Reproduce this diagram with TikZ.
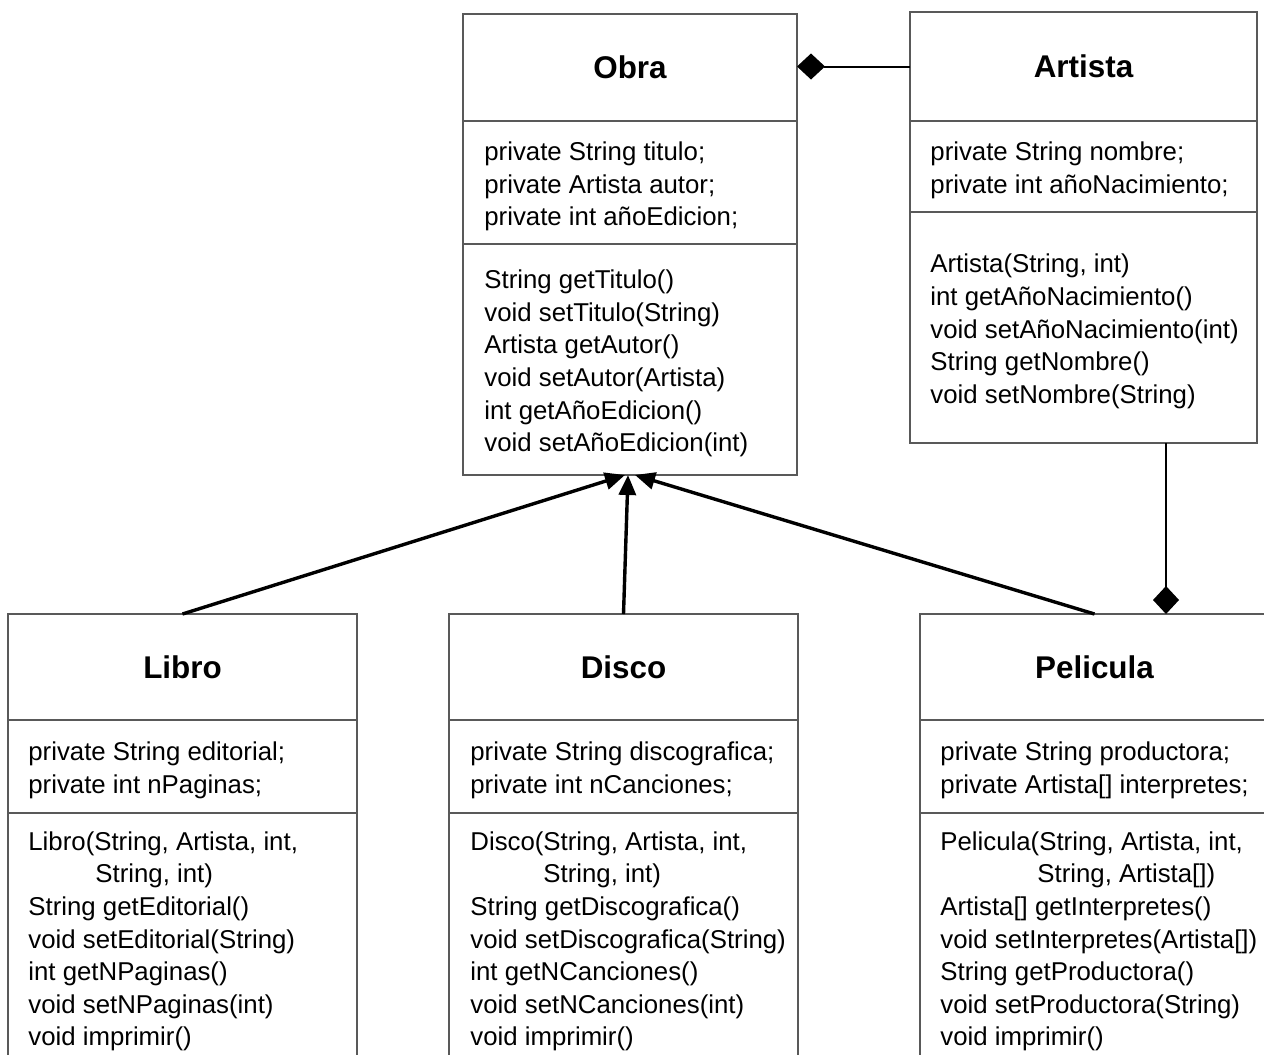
\documentclass[tikz,border=0pt]{standalone}
\usepackage{fontspec}
\setmainfont{Liberation Sans}
\usetikzlibrary{positioning,arrows.meta}

\begin{document}
\begin{tikzpicture}[x=0.5pt,y=-0.5pt,
    box/.style={draw=black!65,line width=1pt,outer sep=0pt,inner sep=0pt,anchor=north west},
    titulo/.style={box,font=\fontsize{15.7}{19}\selectfont\bfseries},
    txt/.style={anchor=west,align=left,inner sep=0pt,yshift=-2pt,font=\fontsize{12.9}{16.3}\selectfont},
    herencia/.style={line width=1.7pt,-{Triangle[length=10pt,width=8.5pt]}},
    composicion/.style={line width=1pt,-{Diamond[length=14pt,width=13pt]}}]

  \useasboundingbox (0,0) rectangle (1264,1055);

  % Obra
  \node[titulo,minimum width=167pt,minimum height=53.5pt] (obra) at (463,14) {Obra};
  \node[box,minimum width=167pt,minimum height=61.5pt,below=0pt of obra] (obra-attr) {};
  \node[box,minimum width=167pt,minimum height=115.5pt,below=0pt of obra-attr] (obra-ops) {};
  \node[txt] (obra-attr-txt) at ([xshift=10.5pt]obra-attr.west)
        {private String titulo;\\private Artista autor;\\private int añoEdicion;};
  \node[txt] (obra-ops-txt) at ([xshift=10.5pt]obra-ops.west)
        {String getTitulo()\\void setTitulo(String)\\Artista getAutor()\\void setAutor(Artista)\\int getAñoEdicion()\\void setAñoEdicion(int)};

  % Artista
  \node[titulo,minimum width=173.5pt,minimum height=54.5pt] (artista) at (910,12) {Artista};
  \node[box,minimum width=173.5pt,minimum height=45.5pt,below=0pt of artista] (artista-attr) {};
  \node[box,minimum width=173.5pt,minimum height=115.5pt,below=0pt of artista-attr] (artista-ops) {};
  \node[txt] (artista-attr-txt) at ([xshift=10pt]artista-attr.west)
        {private String nombre;\\private int añoNacimiento;};
  \node[txt] (artista-ops-txt) at ([xshift=10pt]artista-ops.west)
        {Artista(String, int)\\int getAñoNacimiento()\\void setAñoNacimiento(int)\\String getNombre()\\void setNombre(String)};

  % Libro
  \node[titulo,minimum width=174.5pt,minimum height=53pt] (libro) at (8,614) {Libro};
  \node[box,minimum width=174.5pt,minimum height=46.5pt,below=0pt of libro] (libro-attr) {};
  \node[box,minimum width=174.5pt,minimum height=124.5pt,below=0pt of libro-attr] (libro-ops) {};
  \node[txt] (libro-attr-txt) at ([xshift=10pt]libro-attr.west)
        {private String editorial;\\private int nPaginas;};
  \node[txt] (libro-ops-txt) at ([xshift=10pt]libro-ops.west)
        {Libro(String, Artista, int,\\\hspace*{33.5pt}String, int)\\String getEditorial()\\void setEditorial(String)\\int getNPaginas()\\void setNPaginas(int)\\void imprimir()};

  % Disco
  \node[titulo,minimum width=174.5pt,minimum height=53pt] (disco) at (449,614) {Disco};
  \node[box,minimum width=174.5pt,minimum height=46.5pt,below=0pt of disco] (disco-attr) {};
  \node[box,minimum width=174.5pt,minimum height=124.5pt,below=0pt of disco-attr] (disco-ops) {};
  \node[txt] (disco-attr-txt) at ([xshift=10.5pt]disco-attr.west)
        {private String discografica;\\private int nCanciones;};
  \node[txt] (disco-ops-txt) at ([xshift=10.5pt]disco-ops.west)
        {Disco(String, Artista, int,\\\hspace*{36.5pt}String, int)\\String getDiscografica()\\void setDiscografica(String)\\int getNCanciones()\\void setNCanciones(int)\\void imprimir()};

  % Pelicula
  \node[titulo,minimum width=174.5pt,minimum height=53pt] (pelicula) at (920,614) {Pelicula};
  \node[box,minimum width=174.5pt,minimum height=46.5pt,below=0pt of pelicula] (pelicula-attr) {};
  \node[box,minimum width=174.5pt,minimum height=124.5pt,below=0pt of pelicula-attr] (pelicula-ops) {};
  \node[txt] (pelicula-attr-txt) at ([xshift=10pt]pelicula-attr.west)
        {private String productora;\\private Artista[] interpretes;};
  \node[txt] (pelicula-ops-txt) at ([xshift=10pt]pelicula-ops.west)
        {Pelicula(String, Artista, int,\\\hspace*{48.5pt}String, Artista[])\\Artista[] getInterpretes()\\void setInterpretes(Artista[])\\String getProductora()\\void setProductora(String)\\void imprimir()};

  % relaciones
  \draw[composicion] (artista.west) -- (artista.west -| obra.east);
  \draw[composicion] ([xshift=-45.5pt]artista-ops.south east) coordinate (pata)
        -- (pata |- pelicula.north);

  \draw[herencia] (libro.north) -- ([xshift=-2.5pt]obra-ops.south);
  \draw[herencia] (disco.north) -- ([xshift=-1pt]obra-ops.south);
  \draw[herencia] (pelicula.north) -- ([xshift=2.5pt]obra-ops.south);

\end{tikzpicture}
\end{document}
